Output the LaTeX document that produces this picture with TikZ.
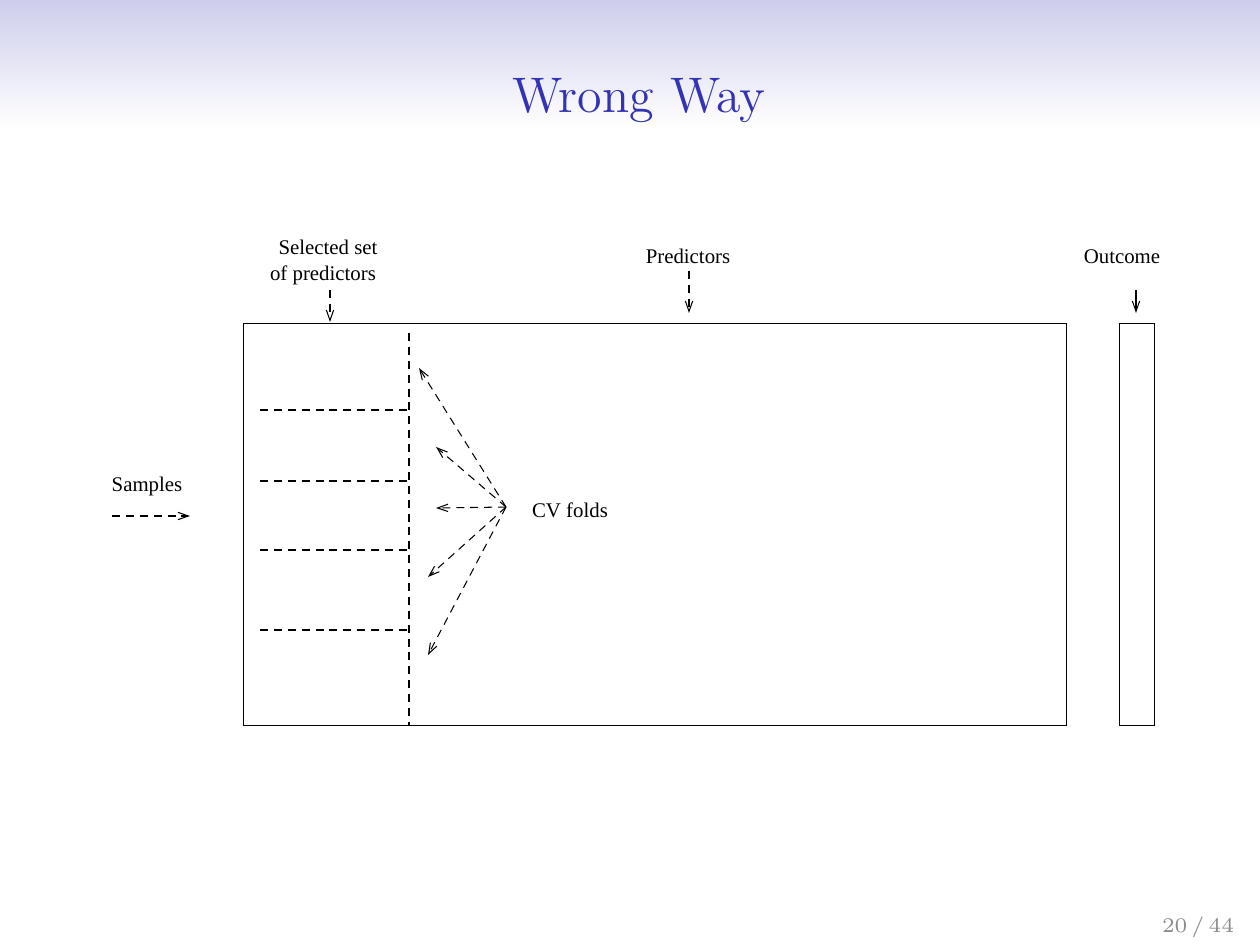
\documentclass[tikz,border=0pt]{standalone}
\usepackage{fontspec}
\newfontfamily\timesf{Liberation Serif}
\usetikzlibrary{arrows.meta}
\definecolor{titleblue}{RGB}{51,51,179}
\definecolor{bandtop}{RGB}{205,205,236}
\definecolor{footgray}{RGB}{140,140,140}
\begin{document}
\begin{tikzpicture}[x=0.288pt,y=-0.288pt,
  lbl/.style={font=\timesf\fontsize{6}{7}\selectfont, inner sep=0pt, anchor=base},
  dsh/.style={line width=0.3pt, dash pattern=on 2.3pt off 1.7pt},
  solidline/.style={line width=0.3pt},
  tip/.style={-{Straight Barb[length=3pt,width=2.1pt,line width=0.3pt]}}]
\useasboundingbox (0,0) rectangle (1260,945);
\fill[white] (0,0) rectangle (1260,945);
\shade[top color=bandtop, bottom color=white] (0,0) rectangle (1260,128);
\node[font=\fontsize{14.4}{17}\selectfont, text=titleblue, inner sep=0pt, anchor=base] (title) at (639,112) {Wrong Way};
\node[font=\fontsize{6}{7}\selectfont, text=footgray, inner sep=0pt, anchor=base] (page) at (1198,932) {20\hspace{1.2pt}/\hspace{1.2pt}44};

% boxes
\node[draw, solidline, inner sep=0pt, minimum width=237.02pt, minimum height=115.78pt, anchor=north west] (pred) at (243,323) {};
\node[draw, solidline, inner sep=0pt, minimum width=10.08pt, minimum height=115.78pt, anchor=north west] (outc) at (1119,323) {};

% selected-set divider and fold lines
\coordinate (vtop) at (409,333);
\coordinate (vbot) at (409,725);
\draw[dsh] (vtop) -- (vbot);
\foreach \y/\n in {410/a,481/b,550/c,630/d}{
  \coordinate (f\n l) at (260,\y);
  \coordinate (f\n r) at (409,\y);
  \draw[dsh] (f\n l) -- (f\n r);
}

% labels
\node[lbl] (sel1) at (328,254) {Selected set};
\node[lbl] (sel2) at (323,280) {of predictors};
\node[lbl] (predl) at (688,263) {Predictors};
\node[lbl] (outl) at (1122,263) {Outcome};
\node[lbl] (samp) at (147,491) {Samples};
\node[lbl] (cvl) at (570,517) {CV folds};

% label arrows
\coordinate (s1) at (330,290); \coordinate (s2) at (330,322);
\draw[dsh,tip] (s1) -- (s2);
\coordinate (p1) at (689,271); \coordinate (p2) at (689,313);
\draw[dsh,tip] (p1) -- (p2);
\coordinate (o1) at (1136,290); \coordinate (o2) at (1136,313);
\draw[solidline,tip] (o1) -- (o2);
\coordinate (sa1) at (112,516); \coordinate (sa2) at (190,516);
\draw[dsh,tip] (sa1) -- (sa2);

% CV folds arrows
\coordinate (cv) at (506,507);
\coordinate (t1) at (419,368);
\coordinate (t2) at (436,447);
\coordinate (t3) at (436,508);
\coordinate (t4) at (428,577);
\coordinate (t5) at (428,655);
\foreach \t in {t1,t2,t3,t4,t5}{
  \draw[dsh,tip] (cv) -- (\t);
}
\end{tikzpicture}
\end{document}
